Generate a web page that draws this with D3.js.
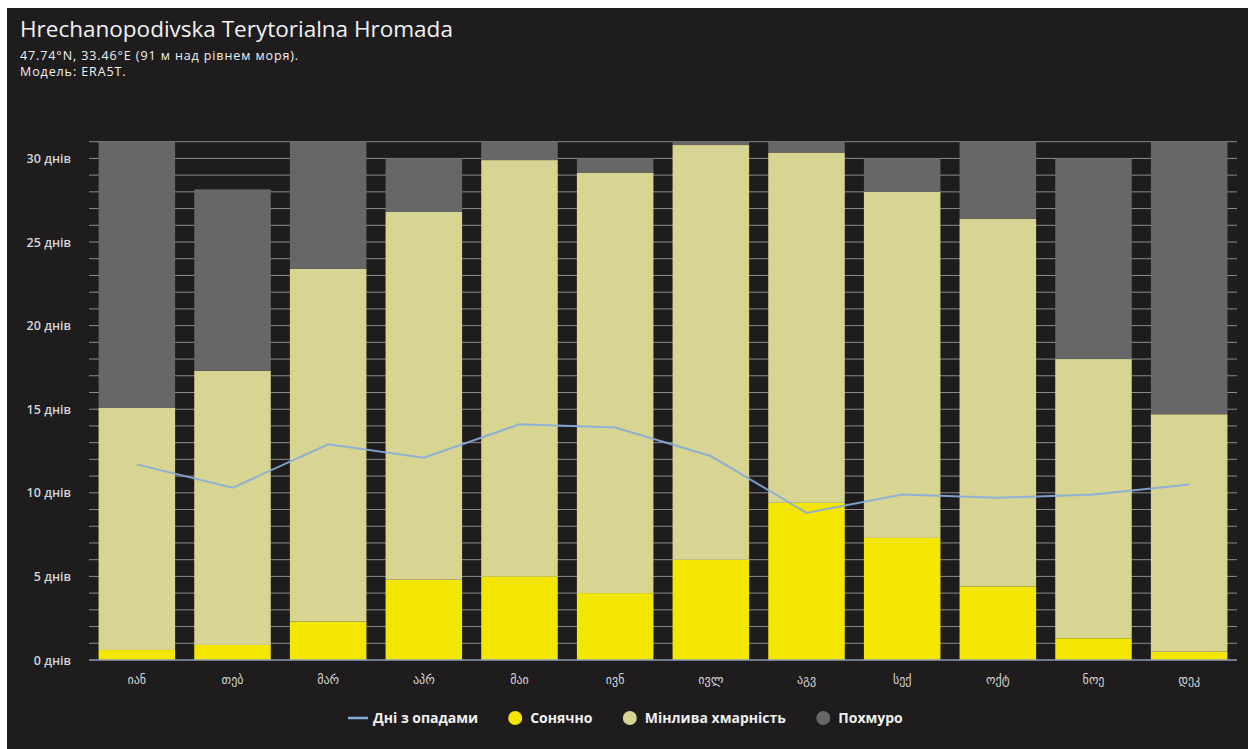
<!DOCTYPE html>
<html>
<head>
<meta charset="utf-8">
<script src="https://cdn.jsdelivr.net/npm/d3@7"></script>
<style>
  html, body { margin: 0; padding: 0; background: #ffffff; }
  svg { display: block; }
  text { font-family: "Open Sans", "DejaVu Sans", sans-serif; }
</style>
</head>
<body>
<svg id="chart" width="1254" height="749"></svg>
<script>
// ---- data ----
const months = ["იან", "თებ", "მარ", "აპრ", "მაი", "ივნ", "ივლ", "აგვ", "სექ", "ოქტ", "ნოე", "დეკ"];
const sunny    = [0.6, 0.9, 2.3, 4.8, 5.0, 4.0, 6.0, 9.4, 7.3, 4.4, 1.3, 0.5];
const mixed    = [14.5, 16.4, 21.1, 22.0, 24.9, 25.15, 24.8, 20.95, 20.7, 22.0, 16.7, 14.2];
const overcast = [15.9, 10.85, 7.6, 3.2, 1.1, 0.85, 0.2, 0.65, 2.0, 4.6, 12.0, 16.3];
const precip   = [11.7, 10.3, 12.9, 12.1, 14.1, 13.9, 12.2, 8.8, 9.9, 9.7, 9.9, 10.5];
const yTicks   = [0, 5, 10, 15, 20, 25, 30];
const seriesNames = ["Сонячно", "Мінлива хмарність", "Похмуро"];
const lineName = "Дні з опадами";
const title = "Hrechanopodivska Terytorialna Hromada";
const subtitle1 = "47.74°N, 33.46°E (91 м над рівнем моря).";
const subtitle2 = "Модель: ERA5T.";

const colors = { "Сонячно": "#f3e600", "Мінлива хмарність": "#d8d491", "Похмуро": "#676767" };
const lineColor = "#86acd9";

const svg = d3.select("#chart");
const W = 1254, H = 749;

// dark panel
svg.append("rect").attr("x", 7).attr("y", 8).attr("width", 1241).attr("height", H - 8).attr("fill", "#1f1c1e");

// titles
svg.append("text").attr("x", 20).attr("y", 37).attr("fill", "#f2f2f2")
  .style("font-size", "22.5px").text(title);
svg.append("text").attr("x", 20).attr("y", 60).attr("fill", "#f0f0f0")
  .style("font-size", "12.5px").style("letter-spacing", "0.9px").text(subtitle1);
svg.append("text").attr("x", 20).attr("y", 76).attr("fill", "#f0f0f0")
  .style("font-size", "12.5px").style("letter-spacing", "0.9px").text(subtitle2);

const plot = { left: 89, right: 1237, top: 141.7, bottom: 660 };

const x = d3.scaleBand().domain(months).range([plot.left, plot.right]).paddingInner(0.2).paddingOuter(0.1);
const y = d3.scaleLinear().domain([0, 31]).range([plot.bottom, plot.top]);

// grid lines every day
const grid = svg.append("g");
grid.selectAll("line").data(d3.range(1, 32)).join("line")
  .attr("x1", plot.left).attr("x2", plot.right)
  .attr("y1", d => y(d)).attr("y2", d => y(d))
  .attr("stroke", "#8c8c8c").attr("stroke-width", 1);

// y axis labels
const yAxis = d3.axisLeft(y).tickValues(yTicks).tickSize(0).tickPadding(0).tickFormat(d => d + " днів");
const yg = svg.append("g").attr("transform", `translate(71,0)`).call(yAxis);
yg.select(".domain").remove();
yg.selectAll("text").attr("fill", "#d6d6d6").attr("text-anchor", "end")
  .style("font-size", "12.5px").style("font-weight", "600")
  .style("font-family", "'Open Sans', sans-serif");

// stacked bars
const rows = months.map((m, i) => ({ month: m, "Сонячно": sunny[i], "Мінлива хмарність": mixed[i], "Похмуро": overcast[i] }));
const stack = d3.stack().keys(seriesNames)(rows);
svg.append("g").selectAll("g").data(stack).join("g")
  .attr("fill", d => colors[d.key])
  .selectAll("rect").data(d => d).join("rect")
  .attr("x", d => x(d.data.month))
  .attr("width", x.bandwidth())
  .attr("y", d => y(d[1]))
  .attr("height", d => y(d[0]) - y(d[1]));

// baseline
svg.append("line").attr("x1", plot.left).attr("x2", plot.right)
  .attr("y1", y(0)).attr("y2", y(0)).attr("stroke", "#8e9cb8").attr("stroke-width", 1.5);

// x axis labels
const xAxis = d3.axisBottom(x).tickSize(0).tickPadding(0);
const xg = svg.append("g").attr("transform", `translate(0,${plot.bottom + 24})`).call(xAxis);
xg.select(".domain").remove();
xg.selectAll("text").attr("fill", "#d6d6d6").style("font-size", "12px")
  .style("font-family", "'DejaVu Sans', sans-serif").attr("dy", "0");

// precipitation line
const line = d3.line().x((d, i) => x(months[i]) + x.bandwidth() / 2).y(d => y(d));
svg.append("path").datum(precip).attr("d", line)
  .attr("fill", "none").attr("stroke", lineColor).attr("stroke-width", 2).attr("stroke-opacity", 0.9);

// legend
const legend = svg.append("g").attr("transform", "translate(0,718)");
const items = [{ name: lineName, type: "line", color: lineColor }]
  .concat(seriesNames.map(n => ({ name: n, type: "dot", color: colors[n] })));
const lg = legend.selectAll("g").data(items).join("g");
lg.each(function (d) {
  const g = d3.select(this);
  let tx;
  if (d.type === "line") {
    g.append("line").attr("x1", 0).attr("x2", 20).attr("y1", 0).attr("y2", 0)
      .attr("stroke", d.color).attr("stroke-width", 2.5);
    tx = 25;
  } else {
    g.append("circle").attr("cx", 7).attr("cy", 0).attr("r", 7).attr("fill", d.color);
    tx = 22;
  }
  g.append("text").attr("x", tx).attr("y", 0).attr("dy", "0.35em")
    .attr("fill", "#f0f0f0").style("font-size", "14px").style("font-weight", "700")
    .style("font-family", "'Open Sans', sans-serif")
    .text(d.name);
});
const widths = [];
lg.each(function () { widths.push(this.getBBox().width); });
const gap = 30;
let start = 348;
lg.attr("transform", (d, i) => {
  const t = `translate(${start},0)`;
  start += widths[i] + gap;
  return t;
});
</script>
</body>
</html>
